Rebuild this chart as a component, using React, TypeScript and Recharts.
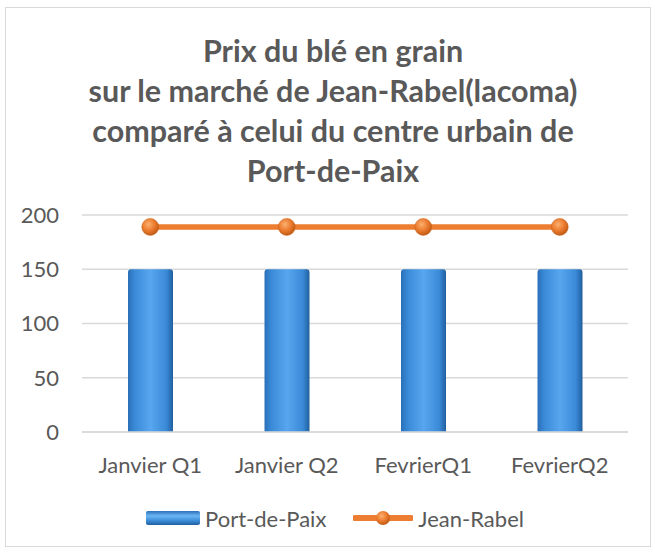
import { ComposedChart, Bar, Line, XAxis, YAxis, CartesianGrid } from "recharts"

const categories = ["Janvier Q1", "Janvier Q2", "FevrierQ1", "FevrierQ2"]
const portDePaix = [150, 150, 150, 150]
const jeanRabel = [189, 189, 189, 189]
const yTicks = [0, 50, 100, 150, 200]
const titleLines = [
  "Prix du blé en grain",
  "sur le marché de Jean-Rabel(lacoma)",
  "comparé à celui du centre urbain de",
  "Port-de-Paix",
]

const data = categories.map((c, i) => ({ name: c, port: portDePaix[i], jean: jeanRabel[i] }))

const font = "Lato, sans-serif"
const grey = "#595959"

function Dot(props: any) {
  const { cx, cy } = props
  if (cx == null || cy == null) return null
  return <circle cx={cx} cy={cy} r={8.5} fill="url(#dotGrad)" stroke="#c8651f" strokeWidth={0.5} />
}

export default function App() {
  return (
    <div style={{ position: "absolute", left: 0, top: 0, width: 655, height: 553, background: "#fff", fontFamily: font }}>
      <div
        style={{
          position: "absolute",
          left: 5,
          top: 7,
          width: 646,
          height: 540,
          border: "1px solid #d9d9d9",
          boxSizing: "border-box",
        }}
      />
      <div
        style={{
          position: "absolute",
          left: 0,
          top: 30,
          width: 666,
          textAlign: "center",
          fontSize: 30.5,
          fontWeight: 700,
          lineHeight: "40px",
          color: grey,
        }}
      >
        {titleLines.map((t) => (
          <div key={t}>{t}</div>
        ))}
      </div>
      <div style={{ position: "absolute", left: 0, top: 0 }}>
        <ComposedChart width={655} height={553} data={data} margin={{ top: 215, right: 27, bottom: 81, left: 22 }}>
          <defs>
            <linearGradient id="barGrad" x1="0" y1="0" x2="1" y2="0">
              <stop offset="0" stopColor="#2a6fb8" />
              <stop offset="0.15" stopColor="#3a8ad8" />
              <stop offset="0.5" stopColor="#57a6ee" />
              <stop offset="0.85" stopColor="#3a8ad8" />
              <stop offset="1" stopColor="#215f9e" />
            </linearGradient>
            <radialGradient id="dotGrad" cx="0.4" cy="0.35" r="0.7">
              <stop offset="0" stopColor="#fbb070" />
              <stop offset="0.5" stopColor="#ed7d31" />
              <stop offset="1" stopColor="#b9560f" />
            </radialGradient>
          </defs>
          <CartesianGrid vertical={false} stroke="#d9d9d9" strokeWidth={1.5} />
          <XAxis
            dataKey="name"
            axisLine={{ stroke: "#d9d9d9", strokeWidth: 1.5 }}
            tickLine={false}
            tickMargin={19}
            height={40}
            tick={{ fontSize: 22, fill: grey, fontFamily: font }}
          />
          <YAxis
            domain={[0, 200]}
            ticks={yTicks}
            axisLine={false}
            tickLine={false}
            tickMargin={17}
            width={60}
            tick={{ fontSize: 22, fill: grey, fontFamily: font }}
          />
          <Bar dataKey="port" fill="url(#barGrad)" barSize={45} radius={[3, 3, 0, 0]} isAnimationActive={false} />
          <Line
            dataKey="jean"
            stroke="#ed7d31"
            strokeWidth={5.5}
            dot={<Dot />}
            activeDot={false}
            isAnimationActive={false}
          />
        </ComposedChart>
      </div>
      <div
        style={{
          position: "absolute",
          top: 505,
          left: 0,
          width: 670,
          display: "flex",
          justifyContent: "center",
          alignItems: "center",
          fontSize: 22,
          color: grey,
          height: 26,
        }}
      >
        <svg width={54} height={16} style={{ marginRight: 5 }}>
          <rect x={0} y={1} width={54} height={14} rx={2} fill="url(#legBar)" />
          <defs>
            <linearGradient id="legBar" x1="0" y1="0" x2="0" y2="1">
              <stop offset="0" stopColor="#2a6fb8" />
              <stop offset="0.35" stopColor="#6cb6f3" />
              <stop offset="0.7" stopColor="#3a8ad8" />
              <stop offset="1" stopColor="#215f9e" />
            </linearGradient>
          </defs>
        </svg>
        <span>Port-de-Paix</span>
        <svg width={60} height={20} style={{ marginLeft: 27, marginRight: 5 }}>
          <line x1={2} y1={10} x2={58} y2={10} stroke="#ed7d31" strokeWidth={6} strokeLinecap="round" />
          <circle cx={30} cy={10} r={7} fill="url(#dotGrad)" />
        </svg>
        <span>Jean-Rabel</span>
      </div>
    </div>
  )
}
